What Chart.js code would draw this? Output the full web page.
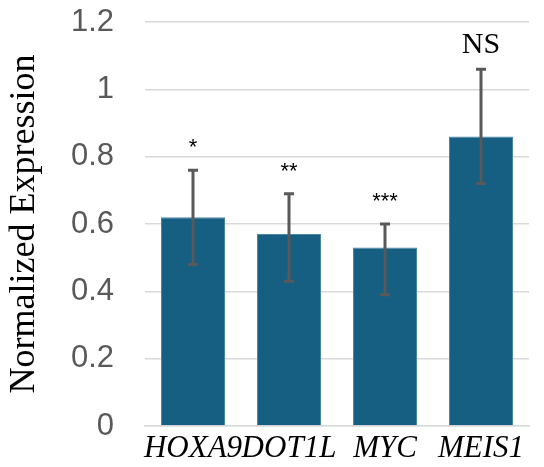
<!DOCTYPE html>
<html>
<head>
<meta charset="utf-8">
<script src="https://cdn.jsdelivr.net/npm/chart.js@4/dist/chart.umd.min.js"></script>
<style>
  html, body { margin: 0; padding: 0; background: #ffffff; }
  #wrap { width: 544px; height: 467px; position: relative; }
</style>
</head>
<body>
<div id="wrap"><canvas id="c"></canvas></div>
<script>
// ---- data ----
const categories = ["HOXA9", "DOT1L", "MYC", "MEIS1"];
const values     = [0.62, 0.57, 0.53, 0.86];
const errUpper   = [0.76, 0.69, 0.60, 1.06];
const errLower   = [0.48, 0.43, 0.39, 0.72];
const annotations = ["*", "**", "***", "NS"];
const yTicks = [0, 0.2, 0.4, 0.6, 0.8, 1, 1.2];

const SERIF = '"Liberation Serif", "Times New Roman", serif';
const SANS = '"Liberation Sans", Arial, sans-serif';

const errorBarPlugin = {
  id: 'errorBars',
  afterDatasetsDraw(chart) {
    const ctx = chart.ctx;
    const meta = chart.getDatasetMeta(0);
    const y = chart.scales.y;
    ctx.save();
    meta.data.forEach((bar, i) => {
      const x = bar.x;
      const yTop = y.getPixelForValue(errUpper[i]);
      const yBot = y.getPixelForValue(errLower[i]);
      ctx.strokeStyle = '#595959';
      ctx.lineWidth = 3;
      ctx.lineCap = 'butt';
      ctx.beginPath();
      ctx.moveTo(x, yTop); ctx.lineTo(x, yBot);
      ctx.moveTo(x - 5, yTop); ctx.lineTo(x + 5, yTop);
      ctx.moveTo(x - 5, yBot); ctx.lineTo(x + 5, yBot);
      ctx.stroke();
      // annotation
      const label = annotations[i];
      ctx.fillStyle = '#000000';
      ctx.textAlign = 'center';
      ctx.textBaseline = 'alphabetic';
      if (label === 'NS') {
        ctx.font = '30px ' + SERIF;
        ctx.fillText(label, x, yTop - 16);
      } else {
        ctx.font = '22px ' + SANS;
        ctx.fillText(label, x, yTop - 16);
      }
    });
    ctx.restore();
  }
};

new Chart(document.getElementById('c'), {
  type: 'bar',
  data: {
    labels: categories,
    datasets: [{
      data: values,
      backgroundColor: '#175f82',
      borderColor: '#4f86a3',
      borderWidth: 1,
      barPercentage: 0.667,
      categoryPercentage: 1.0
    }]
  },
  options: {
    responsive: true,
    maintainAspectRatio: false,
    animation: false,
    layout: { padding: { left: 3, right: 15, top: 22, bottom: 2 } },
    plugins: { legend: { display: false }, tooltip: { enabled: false } },
    scales: {
      x: {
        grid: { display: false, drawTicks: false },
        border: { display: true, color: '#d9d9d9', width: 1.5 },
        ticks: {
          color: '#000000',
          padding: 4,
          font: { family: SERIF, size: 31, style: 'italic' },
          maxRotation: 0, autoSkip: false
        },
        afterFit(scale) {
          scale.height = 39;
          scale.paddingLeft = 0; scale.paddingRight = 0;
        }
      },
      y: {
        min: 0, max: 1.2,
        afterBuildTicks(axis) { axis.ticks = yTicks.map(v => ({ value: v })); },
        grid: { color: '#d9d9d9', lineWidth: 1.5, drawTicks: false },
        border: { display: false },
        ticks: {
          color: '#595959',
          padding: 31,
          font: { family: SANS, size: 31 },
          callback: v => String(v)
        },
        title: {
          display: true,
          text: 'Normalized Expression',
          color: '#000000',
          padding: { top: 0, bottom: 0 },
          font: { family: SERIF, size: 36 }
        },
        afterFit(scale) {
          scale.width = 142;
          scale.paddingTop = 0; scale.paddingBottom = 0;
        }
      }
    }
  },
  plugins: [errorBarPlugin]
});
</script>
</body>
</html>
